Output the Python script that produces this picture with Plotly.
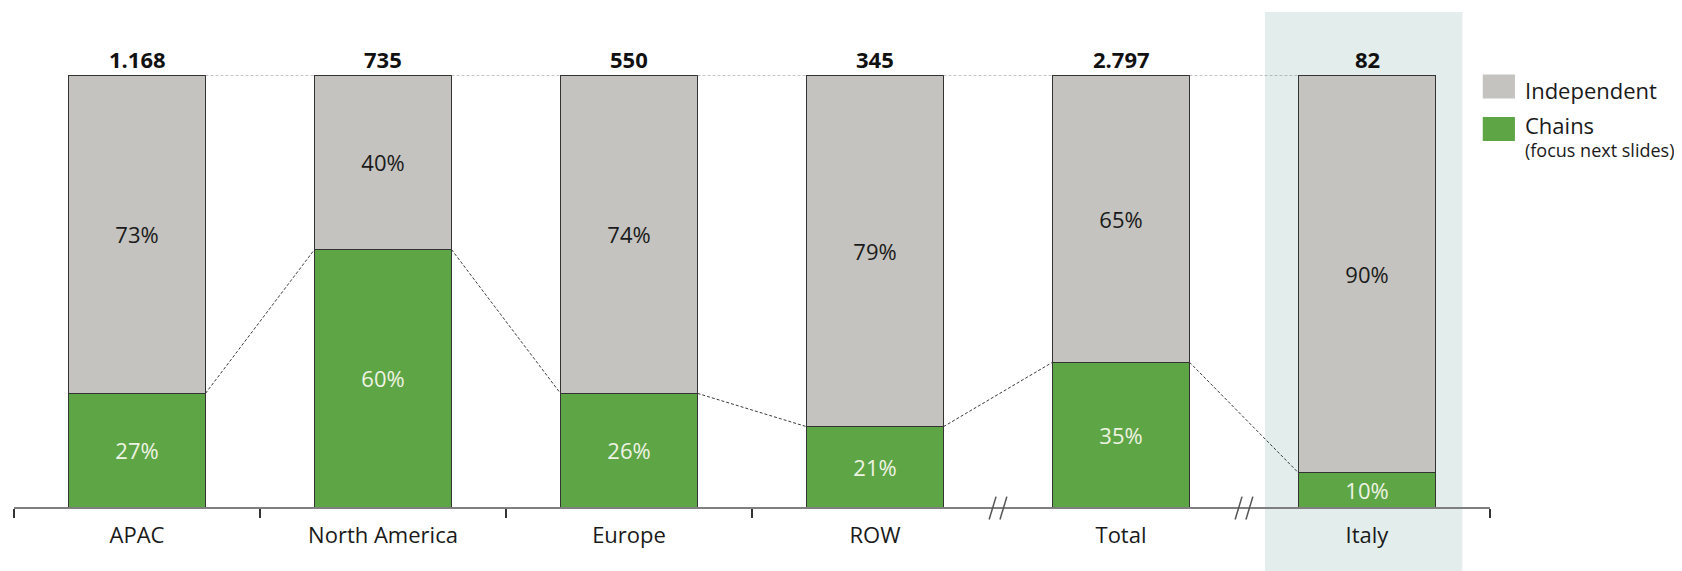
import plotly.graph_objects as go

categories = ["APAC", "North America", "Europe", "ROW", "Total", "Italy"]
totals = ["1.168", "735", "550", "345", "2.797", "82"]
# segment heights as drawn in the picture (share of bar height, %)
chains = [26.3, 59.6, 26.3, 18.6, 33.5, 7.9]
independent = [73.7, 40.4, 73.7, 81.4, 66.5, 92.1]
# printed labels
chains_labels = ["27%", "60%", "26%", "21%", "35%", "10%"]
independent_labels = ["73%", "40%", "74%", "79%", "65%", "90%"]

GRAY = "#C4C3BF"
GREEN = "#5EA545"
FONT = "Open Sans"
BAR_W = 0.557

x = list(range(len(categories)))

fig = go.Figure()
fig.add_trace(go.Bar(
    x=x, y=chains, width=BAR_W, name="Chains",
    marker=dict(color=GREEN, line=dict(color="#333333", width=1)),
    text=chains_labels, textposition="inside",
    insidetextanchor="middle", textangle=0,
    textfont=dict(family=FONT, size=22, color="#EEF3E3"),
    hoverinfo="skip", showlegend=False,
))
fig.add_trace(go.Bar(
    x=x, y=independent, width=BAR_W, name="Independent",
    marker=dict(color=GRAY, line=dict(color="#333333", width=1)),
    text=independent_labels, textposition="inside",
    insidetextanchor="middle", textangle=0,
    textfont=dict(family=FONT, size=22, color="#1a1a1a"),
    hoverinfo="skip", showlegend=False,
))

shapes = []
# Italy highlight panel
shapes.append(dict(type="rect", xref="x", yref="paper", x0=4.585, x1=5.388,
                   y0=-0.2, y1=1.146, fillcolor="#E3EEEC", line=dict(width=0),
                   layer="below"))
# connectors
for i in range(len(categories) - 1):
    shapes.append(dict(type="line", xref="x", yref="y",
                       x0=i + BAR_W / 2, x1=i + 1 - BAR_W / 2,
                       y0=chains[i], y1=chains[i + 1],
                       line=dict(color="#3a3a3a", width=1, dash="3px,2px")))
    shapes.append(dict(type="line", xref="x", yref="y",
                       x0=i + BAR_W / 2, x1=i + 1 - BAR_W / 2,
                       y0=100, y1=100,
                       line=dict(color="#8a8a8a", width=1, dash="3px,2px")))
# axis break marks
for b in [3.5, 4.5]:
    for off in [-0.022, 0.022]:
        shapes.append(dict(type="line", xref="x", yref="paper",
                           x0=b + off - 0.014, x1=b + off + 0.014,
                           y0=-0.029, y1=0.024,
                           line=dict(color="#555555", width=1.5)))
# legend swatches
shapes.append(dict(type="rect", xref="paper", yref="paper", x0=0.9951, x1=1.0169,
                   y0=0.9456, y1=1.001, fillcolor=GRAY, line=dict(width=0)))
shapes.append(dict(type="rect", xref="paper", yref="paper", x0=0.9951, x1=1.0169,
                   y0=0.8473, y1=0.9028, fillcolor=GREEN, line=dict(width=0)))

annotations = []
for i, t in enumerate(totals):
    annotations.append(dict(x=i, y=100, xref="x", yref="y", text=f"<b>{t}</b>",
                            showarrow=False, yanchor="bottom", yshift=-1,
                            font=dict(family=FONT, size=22, color="#111111")))
annotations.append(dict(x=1.0224, y=0.9664, xref="paper", yref="paper",
                        text="Independent", showarrow=False, xanchor="left",
                        yanchor="middle", font=dict(family=FONT, size=22, color="#1a1a1a")))
annotations.append(dict(x=1.0224, y=0.8843, xref="paper", yref="paper",
                        text="Chains", showarrow=False, xanchor="left",
                        yanchor="middle", font=dict(family=FONT, size=22, color="#1a1a1a")))
annotations.append(dict(x=1.0224, y=0.8262, xref="paper", yref="paper",
                        text="(focus next slides)", showarrow=False, xanchor="left",
                        yanchor="middle", font=dict(family=FONT, size=18, color="#1a1a1a")))

fig.update_layout(
    width=1674, height=563,
    margin=dict(l=6, r=192, t=67, b=64),
    barmode="stack",
    plot_bgcolor="rgba(0,0,0,0)", paper_bgcolor="white",
    font=dict(family=FONT, size=22, color="#1a1a1a"),
    shapes=shapes, annotations=annotations,
    uniformtext=dict(minsize=22, mode="show"),
    xaxis=dict(range=[-0.5, 5.5], tickmode="array", tickvals=x, ticktext=categories,
               ticks="", showline=True, linecolor="#7f7f7f", linewidth=1.5,
               showgrid=False, zeroline=False, ticklabelstandoff=8,
               tickfont=dict(family=FONT, size=22, color="#1a1a1a"),
               minor=dict(tickmode="array", tickvals=[-0.5, 0.5, 1.5, 2.5, 5.5],
                          ticks="outside", ticklen=9, tickcolor="#333333",
                          tickwidth=1.5, showgrid=False)),
    yaxis=dict(range=[0, 100], visible=False, fixedrange=True),
)

fig.write_html("out.html")
